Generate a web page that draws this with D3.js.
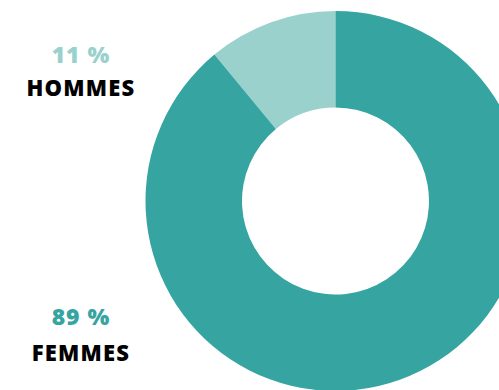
<!DOCTYPE html>
<html>
<head>
<meta charset="utf-8">
<script src="https://cdn.jsdelivr.net/npm/d3@7"></script>
<style>
  html, body { margin: 0; padding: 0; background: #fff; }
  svg { display: block; }
</style>
</head>
<body>
<svg id="chart" width="499" height="390"></svg>
<script>
// Gender split
const categories = ["HOMMES", "FEMMES"];
const values = [11, 89];
const valueLabels = ["11 %", "89 %"];
const colors = ["#9ad1cd", "#36a5a1"];

const svg = d3.select("#chart");
const cx = 335.5, cy = 201, outerR = 190, innerR = 93.5;

const color = d3.scaleOrdinal().domain(categories).range(colors);

// Hommes slice runs counter-clockwise from 12 o'clock
const pie = d3.pie().sort(null).value(d => d.value)
  .startAngle(0).endAngle(-2 * Math.PI);
const data = categories.map((c, i) => ({ cat: c, value: values[i], label: valueLabels[i] }));
const arcs = pie(data);
const arc = d3.arc().innerRadius(innerR).outerRadius(outerR);

svg.append("g")
  .attr("transform", `translate(${cx},${cy})`)
  .selectAll("path")
  .data(arcs)
  .join("path")
  .attr("d", arc)
  .attr("fill", d => color(d.data.cat));

// Side labels: percentage above category name
const labelX = 81;
const labelPos = { HOMMES: [63, 96], FEMMES: [325, 361] };
const font = "'Open Sans', 'Liberation Sans', sans-serif";

const g = svg.append("g");
data.forEach(d => {
  const [yPct, yName] = labelPos[d.cat];
  g.append("text")
    .attr("x", labelX).attr("y", yPct)
    .attr("text-anchor", "middle")
    .attr("font-family", font)
    .attr("font-weight", 800)
    .attr("font-size", 23)
    .attr("letter-spacing", 1)
    .attr("fill", color(d.cat))
    .text(d.label);
  g.append("text")
    .attr("x", labelX).attr("y", yName)
    .attr("text-anchor", "middle")
    .attr("font-family", font)
    .attr("font-weight", 800)
    .attr("font-size", 22)
    .attr("letter-spacing", 1.2)
    .attr("fill", "#000")
    .text(d.cat);
});
</script>
</body>
</html>
